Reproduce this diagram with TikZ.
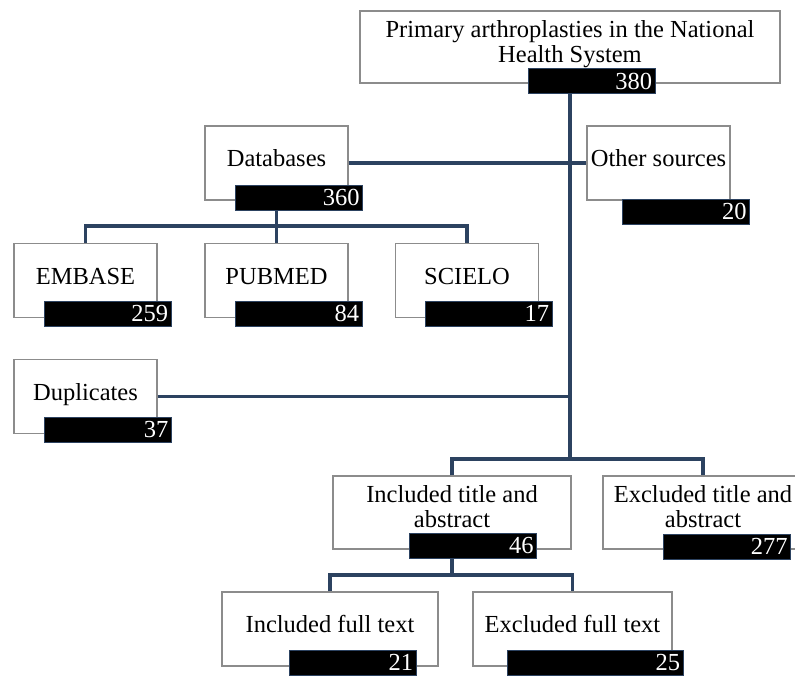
\documentclass[tikz,border=0pt]{standalone}
\usepackage{fontspec}
\setmainfont{Liberation Serif}
\usepackage{tikz}
\usetikzlibrary{arrows.meta}

\definecolor{linenavy}{RGB}{44,66,96}
\definecolor{boxgray}{RGB}{140,140,140}

\tikzset{
    stage/.style={draw=boxgray, line width=1.3pt, fill=white, align=center,
                  minimum width=#1, minimum height=74pt, inner sep=2pt},
    stage/.default=143pt,
    oneline/.style={text height=0.9em, text depth=0.12em},
    twoline/.style={text height=42pt, text depth=12pt},
    count/.style={draw=linenavy, line width=1pt, fill=black, text=white,
                  align=right, text width=#1, minimum height=25pt,
                  inner xsep=3pt, inner ysep=0pt},
    count/.default=121pt,
    link/.style={draw=linenavy, line width=3.2pt}
}

\begin{document}
\begin{tikzpicture}[x=1pt, y=-1pt, font=\fontsize{24.5}{25}\selectfont]
\useasboundingbox (0,0) rectangle (795,675);
\clip (0,0) rectangle (795,675);
%\fill[white] (0,0) rectangle (795,675);
\begin{scope}
    \node[stage=420pt, minimum height=72pt, twoline] (P) at (570,47) {Primary arthroplasties in the National\\Health System};
    \node[stage, oneline] (D) at (276.5,163) {Databases};
    \node[stage, oneline] (O) at (658.5,163) {Other sources};
    \node[stage, oneline] (E) at (85.5,280.5) {EMBASE};
    \node[stage, oneline] (M) at (276.5,280.5) {PUBMED};
    \node[stage, oneline] (S) at (467,280.5) {SCIELO};
    \node[stage, oneline] (U) at (85.5,396.5) {Duplicates};
    \node[stage=238pt, minimum height=73pt, twoline] (I) at (452,512.5) {Included title and\\abstract};
    \node[stage=200pt, minimum height=73pt, twoline] (X) at (703,512.5) {Excluded title and\\abstract};
    \node[stage=216pt, oneline] (F) at (330,629) {Included full text};
    \node[stage=199pt, oneline] (G) at (572.5,629) {Excluded full text};

    \node[count] (p) at (591.5,81) {380};
    \node[count] (d) at (299,197.5) {360};
    \node[count] (o) at (686,211.5) {20};
    \node[count] (e) at (107.5,313.5) {259};
    \node[count] (m) at (298.5,313.5) {84};
    \node[count] (s) at (488.5,313.5) {17};
    \node[count] (u) at (108,429.5) {37};
    \node[count] (i) at (473,545.5) {46};
    \node[count] (x) at (727,546.5) {277};
    \node[count] (f) at (352.5,662.5) {21};
    \node[count=170pt] (g) at (595,662.5) {25};
\end{scope}

\coordinate (split) at (570,459);
\coordinate (dbsplit) at (276.5,226);
\coordinate (ftsplit) at (452,575);

\begin{scope}[every path/.style={link}]
    \draw (p.south -| split) -- (split);
    \draw (D.east) -- (O.west);
    \draw (d.south -| D.center) -- (M.north);
    \draw (E.north) |- (dbsplit) -| (S.north);
    \draw (U.east) -- (U.east -| split);
    \draw (I.north) |- (split) -| (X.north);
    \draw (i.south -| I.center) -- (ftsplit);
    \draw (F.north) |- (ftsplit) -| (G.north);
\end{scope}
\end{tikzpicture}
\end{document}
